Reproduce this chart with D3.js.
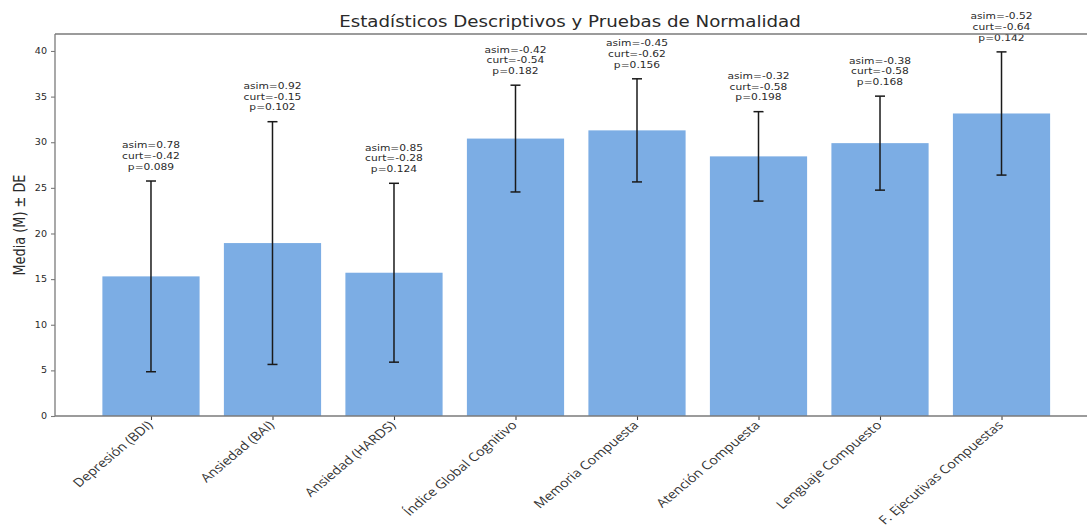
<!DOCTYPE html>
<html>
<head>
<meta charset="utf-8">
<script src="https://cdn.jsdelivr.net/npm/d3@7"></script>
<style>
  body { margin: 0; background: #ffffff; }
  svg { display: block; }
</style>
</head>
<body>
<svg id="chart" width="1087" height="527"></svg>
<script>
// Descriptive statistics per scale
const categories = [
  "Depresión (BDI)", "Ansiedad (BAI)", "Ansiedad (HARDS)", "Índice Global Cognitivo",
  "Memoria Compuesta", "Atención Compuesta", "Lenguaje Compuesto", "F. Ejecutivas Compuestas"
];
const means    = [15.3, 18.95, 15.7, 30.4, 31.3, 28.45, 29.9, 33.15];
const sds      = [10.45, 13.3, 9.8, 5.85, 5.65, 4.9, 5.15, 6.75];
const skewness = [0.78, 0.92, 0.85, -0.42, -0.45, -0.32, -0.38, -0.52];
const kurtosis = [-0.42, -0.15, -0.28, -0.54, -0.62, -0.58, -0.58, -0.64];
const pValues  = ["0.089", "0.102", "0.124", "0.182", "0.156", "0.198", "0.168", "0.142"];
const yTicks   = [0, 5, 10, 15, 20, 25, 30, 35, 40];

const TITLE = "Estadísticos Descriptivos y Pruebas de Normalidad";
const Y_LABEL = "Media (M) ± DE";

// Layout
const plot = { left: 55, right: 1097.5, top: 34, bottom: 416 };
const SX = 1.2;               // horizontal text stretch
const FONT = "'DejaVu Sans', sans-serif";
const TEXT = "#2a2a2a";
const SPINE = "#7a7a7a";

const svg = d3.select("#chart");

const x = d3.scaleLinear()
  .domain([-0.79, categories.length - 1 + 0.79])
  .range([plot.left, plot.right]);
const y = d3.scaleLinear()
  .domain([0, 41.86])
  .range([plot.bottom, plot.top]);
const barW = x(0.4) - x(-0.4);

const idx = d3.range(categories.length);

// Bars
svg.append("g").selectAll("rect")
  .data(idx)
  .join("rect")
  .attr("x", i => x(i) - barW / 2)
  .attr("y", i => y(means[i]))
  .attr("width", barW)
  .attr("height", i => y(0) - y(means[i]))
  .attr("fill", "#7cade4");

// Error bars (mean ± SD)
const err = svg.append("g").attr("stroke", "#1a1a1a").attr("stroke-width", 1.5);
idx.forEach(i => {
  const cx = x(i), lo = y(means[i] - sds[i]), hi = y(means[i] + sds[i]);
  err.append("line").attr("x1", cx).attr("x2", cx).attr("y1", lo).attr("y2", hi);
  err.append("line").attr("x1", cx - 5).attr("x2", cx + 5).attr("y1", lo).attr("y2", lo);
  err.append("line").attr("x1", cx - 5).attr("x2", cx + 5).attr("y1", hi).attr("y2", hi);
});

// Normality annotations above each error bar
const ann = svg.append("g")
  .attr("font-family", FONT)
  .attr("font-size", 8.9)
  .attr("fill", TEXT)
  .attr("text-anchor", "middle");
idx.forEach(i => {
  const base = y(means[i] + sds[i]) - 11.2;
  const lines = [
    "asim=" + skewness[i].toFixed(2),
    "curt=" + kurtosis[i].toFixed(2),
    "p=" + pValues[i]
  ];
  lines.forEach((t, k) => {
    ann.append("text")
      .attr("transform", `translate(${x(i)},${base - (2 - k) * 10.7}) scale(${SX},1)`)
      .text(t);
  });
});

// Y axis
const yAxis = svg.append("g")
  .attr("transform", `translate(${plot.left},0)`)
  .call(d3.axisLeft(y).tickValues(yTicks).tickSize(4).tickPadding(3));
yAxis.select(".domain").remove();
yAxis.selectAll(".tick line").attr("stroke", SPINE).attr("stroke-width", 1.1);
yAxis.selectAll(".tick text")
  .attr("font-family", FONT)
  .attr("font-size", 8)
  .attr("fill", TEXT)
  .attr("x", -8 / SX)
  .attr("transform", `scale(${SX},1)`);

// X axis
const xAxis = svg.append("g")
  .attr("transform", `translate(0,${plot.bottom})`)
  .call(d3.axisBottom(x).tickValues(idx).tickFormat(i => categories[i]).tickSize(4));
xAxis.select(".domain").remove();
xAxis.selectAll(".tick line").attr("stroke", "#444").attr("stroke-width", 1.1);
xAxis.selectAll(".tick text")
  .attr("font-family", "'Open Sans', sans-serif")
  .attr("font-size", 12)
  .attr("fill", "#333")
  .attr("text-anchor", "end")
  .attr("x", 0).attr("y", 0).attr("dy", 0)
  .attr("transform", `translate(2,10) scale(${SX},1) rotate(-45)`);

// Spines
const sp = svg.append("g").attr("stroke", SPINE).attr("stroke-width", 1.3).attr("fill", "none");
sp.append("line").attr("x1", plot.left).attr("x2", plot.left).attr("y1", plot.top).attr("y2", plot.bottom);
sp.append("line").attr("x1", plot.left).attr("x2", plot.right).attr("y1", plot.bottom).attr("y2", plot.bottom);
sp.append("line").attr("x1", plot.left).attr("x2", plot.right).attr("y1", plot.top).attr("y2", plot.top);
sp.append("line").attr("x1", plot.right).attr("x2", plot.right).attr("y1", plot.top).attr("y2", plot.bottom);

// Title
svg.append("text")
  .attr("transform", `translate(570,27) scale(${SX},1)`)
  .attr("text-anchor", "middle")
  .attr("font-family", FONT)
  .attr("font-size", 15.2)
  .attr("fill", TEXT)
  .text(TITLE);

// Y axis label
svg.append("text")
  .attr("transform", `translate(25,${(plot.top + plot.bottom) / 2}) scale(${SX},1) rotate(-90)`)
  .attr("text-anchor", "middle")
  .attr("font-family", FONT)
  .attr("font-size", 12.9)
  .attr("fill", TEXT)
  .text(Y_LABEL);
</script>
</body>
</html>
